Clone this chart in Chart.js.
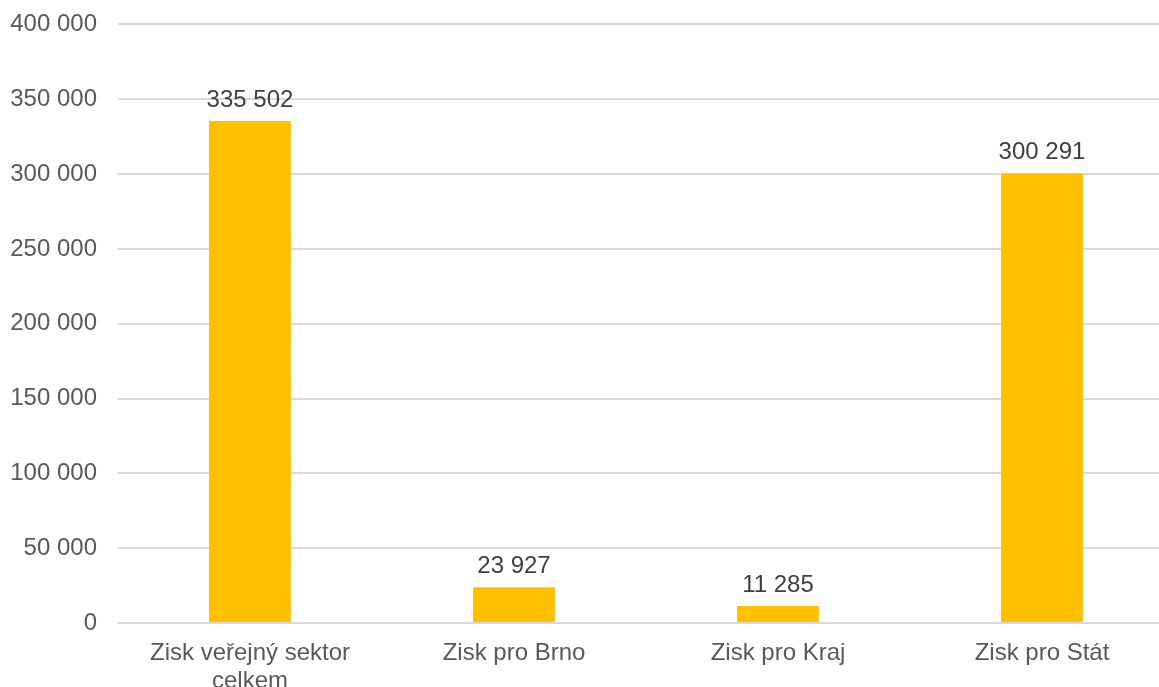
<!DOCTYPE html>
<html>
<head>
<meta charset="utf-8">
<script src="https://cdn.jsdelivr.net/npm/chart.js@4"></script>
<style>
    html, body { margin: 0; padding: 0; background: #fff; overflow: hidden; }
    #wrap { width: 1174px; height: 698px; margin-top: -11px; }
</style>
</head>
<body>
<div id="wrap"><canvas id="chart"></canvas></div>
<script>
/* Zisk - data */
const categories = [["Zisk veřejný sektor", "celkem"], "Zisk pro Brno", "Zisk pro Kraj", "Zisk pro Stát"];
const values = [335502, 23927, 11285, 300291];
const yTicks = [0, 50000, 100000, 150000, 200000, 250000, 300000, 350000, 400000];

const fontFamily = "'Liberation Sans', Arial, sans-serif";

function fmt(v) {
    return String(v).replace(/\B(?=(\d{3})+(?!\d))/g, " ");
}

/* draws the value above every bar */
const valueLabels = {
    id: "valueLabels",
    afterDatasetsDraw(chart) {
        const ctx = chart.ctx;
        const meta = chart.getDatasetMeta(0);
        ctx.save();
        ctx.font = "24px " + fontFamily;
        ctx.fillStyle = "#404040";
        ctx.textAlign = "center";
        ctx.textBaseline = "bottom";
        meta.data.forEach((bar, i) => {
            ctx.fillText(fmt(values[i]), bar.x, bar.y - 9);
        });
        ctx.restore();
    }
};

Chart.defaults.font.family = fontFamily;

new Chart("chart", {
    type: "bar",
    data: {
        labels: categories,
        datasets: [{
            data: values,
            backgroundColor: "#FFC000",
            barPercentage: 0.31,
            categoryPercentage: 1
        }]
    },
    options: {
        responsive: true,
        maintainAspectRatio: false,
        animation: false,
        layout: { padding: { top: 12, right: 0, bottom: 0, left: 0 } },
        plugins: {
            legend: { display: false },
            tooltip: { enabled: false }
        },
        scales: {
            x: {
                grid: { display: false },
                border: { display: false },
                ticks: {
                    color: "#595959",
                    font: { size: 24, lineHeight: 1.17 },
                    maxRotation: 0,
                    autoSkip: false,
                    padding: 8
                },
                afterFit(scale) { scale.height = 64; }
            },
            y: {
                min: 0,
                max: 400000,
                afterBuildTicks(scale) {
                    scale.ticks = yTicks.map(v => ({ value: v }));
                },
                grid: { color: "#d9d9d9", lineWidth: 2, drawTicks: false },
                border: { display: false },
                ticks: {
                    color: "#595959",
                    font: { size: 24 },
                    padding: 21,
                    callback: (v) => fmt(v)
                },
                afterFit(scale) { scale.width = 118; }
            }
        }
    },
    plugins: [valueLabels]
});
</script>
</body>
</html>
